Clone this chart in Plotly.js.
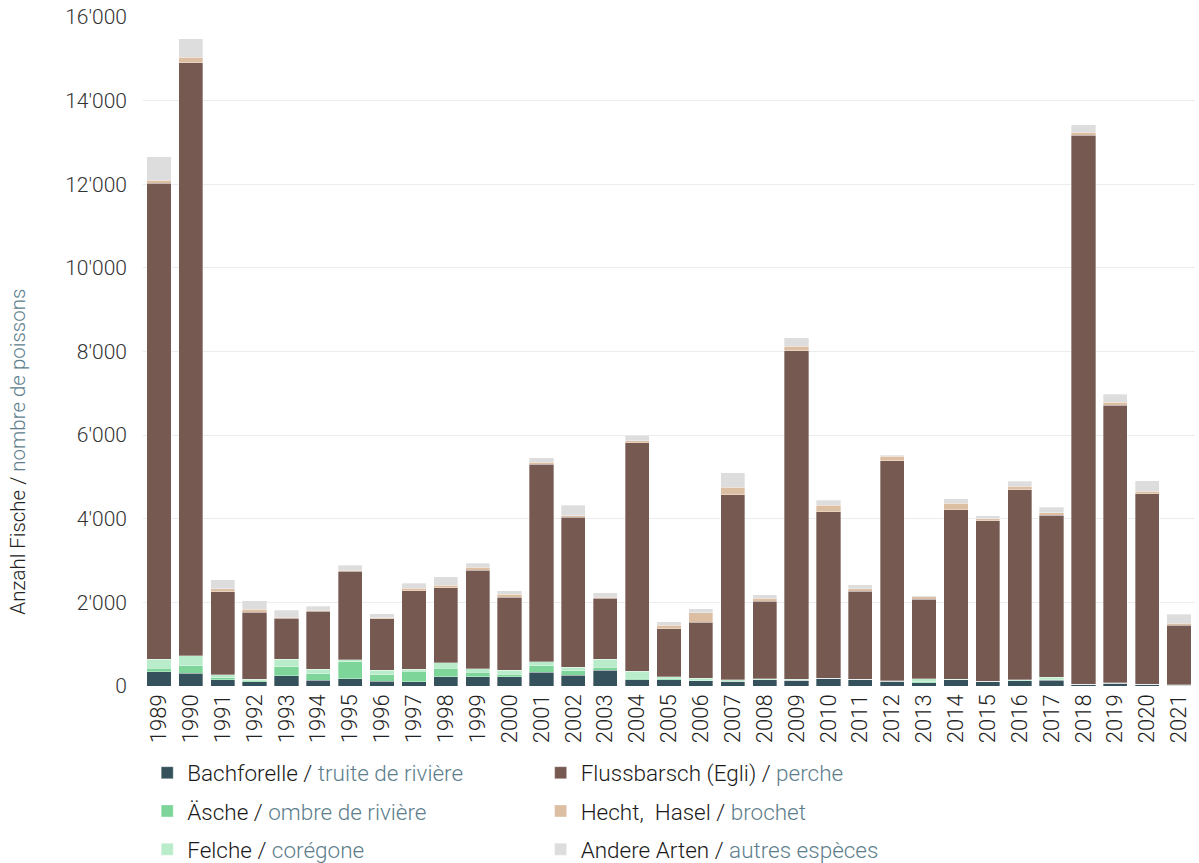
<!DOCTYPE html>
<html>
<head>
<meta charset="utf-8">
<script src="https://cdn.plot.ly/plotly-3.0.1.min.js"></script>
<style>html,body{margin:0;padding:0;background:#fff;}#chart{width:1199px;height:863px;}</style>
</head>
<body>
<div id="chart"></div>
<script>
const years = ['1989','1990','1991','1992','1993','1994','1995','1996','1997','1998','1999','2000','2001','2002','2003','2004','2005','2006','2007','2008','2009','2010','2011','2012','2013','2014','2015','2016','2017','2018','2019','2020','2021'];
const bachforelle = [335,311,148,100,244,132,172,115,100,220,220,220,330,258,378,155,155,130,115,150,140,180,156,117,80,145,108,125,140,40,60,40,20];
const aesche      = [90,168,55,32,215,167,414,160,254,206,103,62,160,106,72,32,20,0,0,0,0,0,0,0,20,0,0,0,5,0,0,0,0];
const felche      = [215,239,72,31,175,103,41,96,41,129,88,96,96,79,184,167,52,60,33,20,25,10,10,10,75,20,10,30,68,5,15,0,10];
const flussbarsch = [11384,14182,1985,1602,981,1387,2112,1236,1882,1794,2352,1746,4712,3593,1459,5463,1141,1336,4424,1854,7856,3975,2098,5259,1905,4048,3831,4544,3871,13132,6643,4563,1429];
const hecht       = [72,135,65,65,31,24,24,24,63,62,79,65,55,40,31,48,87,225,182,72,103,158,65,103,50,158,55,79,57,65,64,56,38];
const andere      = [564,440,215,208,167,96,127,96,119,201,96,95,105,247,112,127,80,96,345,88,208,120,96,31,30,112,65,120,134,182,192,248,215];

const labelsDe = ['Bachforelle','Äsche','Felche','Flussbarsch (Egli)','Hecht,&nbsp; Hasel','Andere Arten'];
const labelsFr = ['truite de rivière','ombre de rivière','corégone','perche','brochet','autres espèces'];
const seriesData = [bachforelle, aesche, felche, flussbarsch, hecht, andere];
const colors = ['#35525c','#7dd59a','#b9eccb','#765a52','#dcbea2','#dddddd'];
const legendIds = ['legend','legend','legend','legend2','legend2','legend2'];

const frColor = '#5d7e8c';
const traces = seriesData.map((vals, i) => ({
  type: 'bar',
  x: years,
  y: vals,
  name: labelsDe[i] + ' / <span style="color:' + frColor + '">' + labelsFr[i] + '</span>',
  marker: {color: colors[i], line: {color: 'rgba(255,255,255,0.55)', width: 0.6}},
  legend: legendIds[i],
  legendgroup: 'g' + i,
  hoverinfo: 'x+y+name'
}));

const fam = 'Roboto, "Liberation Sans", Arial, sans-serif';

const layout = {
  width: 1199, height: 863,
  margin: {l: 143, r: 4, t: 17, b: 177, autoexpand: false},
  barmode: 'stack',
  bargap: 0.24,
  separators: ".'",
  paper_bgcolor: '#fff', plot_bgcolor: '#fff',
  font: {family: fam, size: 18, color: '#333', weight: 300},
  xaxis: {
    type: 'category',
    tickangle: -90,
    tickfont: {family: fam, size: 22, color: '#222', weight: 300},
    showgrid: false, zeroline: false, showline: false, ticks: '',
    ticklabelstandoff: 3, automargin: false
  },
  yaxis: {
    range: [0, 16000],
    dtick: 2000,
    tickformat: ',d',
    tickfont: {family: fam, size: 21, color: '#333', weight: 300},
    gridcolor: '#ececec', gridwidth: 1,
    zeroline: false, showline: false, ticks: '',
    ticklabelstandoff: 15, automargin: false
  },
  showlegend: true,
  legend: {
    x: 0.004, xanchor: 'left', y: -0.098, yanchor: 'top',
    orientation: 'v', tracegroupgap: 6,
    font: {family: fam, size: 22.5, color: '#1a1a1a', weight: 300},
    itemwidth: 30, bgcolor: 'rgba(0,0,0,0)'
  },
  legend2: {
    x: 0.378, xanchor: 'left', y: -0.098, yanchor: 'top',
    orientation: 'v', tracegroupgap: 6,
    font: {family: fam, size: 22.5, color: '#1a1a1a', weight: 300},
    itemwidth: 30, bgcolor: 'rgba(0,0,0,0)'
  },
  annotations: [{
    text: 'Anzahl Fische / <span style="color:' + frColor + '">nombre de poissons</span>',
    xref: 'paper', yref: 'paper',
    x: -0.119, y: 0.35, xanchor: 'center', yanchor: 'middle',
    textangle: -90, showarrow: false,
    font: {family: fam, size: 20.5, color: '#222', weight: 300}
  }]
};

Plotly.newPlot('chart', traces, layout, {displayModeBar: false, responsive: false});
</script>
</body>
</html>
